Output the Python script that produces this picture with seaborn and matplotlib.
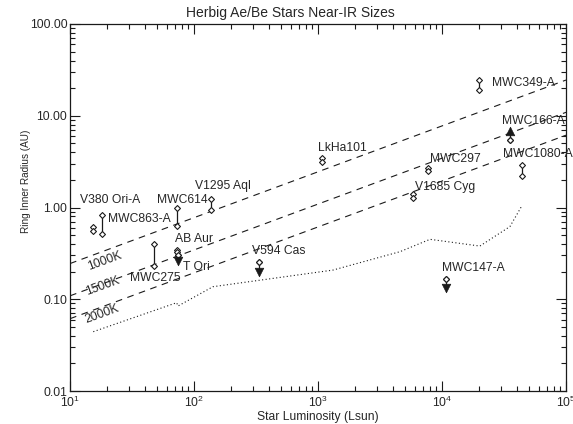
import numpy as np
import pandas as pd
import matplotlib
matplotlib.use("Agg")
import matplotlib.pyplot as plt
import matplotlib.ticker as mticker
import seaborn as sns

# Herbig Ae/Be stars: luminosity (Lsun) and the two measured ring radii (AU)
star_names = ['V380 Ori-A', 'MWC863-A', 'MWC614', 'V1295 Aql', 'MWC275',
              'AB Aur', 'T Ori', 'V594 Cas', 'LkHa101', 'MWC297',
              'V1685 Cyg', 'MWC349-A', 'MWC166-A', 'MWC1080-A', 'MWC147-A']
star_lum = [15.4, 18.1, 73, 137, 48, 73, 74, 337, 1077, 7650,
            5880, 20000, 35300, 44000, 10770]
r_high = [0.61, 0.83, 1.00, 1.23, 0.40, 0.344, 0.30, 0.253, 3.49, 2.67,
          1.40, 24.5, 5.4, 2.88, 0.165]
r_low = [0.55, 0.51, 0.63, 0.94, 0.23, 0.33, 0.30, 0.253, 3.16, 2.52,
         1.26, 19.0, 5.4, 2.20, 0.165]

# upper / lower limits (filled triangles)
limit_names = ['T Ori', 'V594 Cas', 'MWC147-A', 'MWC166-A']
limit_lum = [74, 337, 10770, 35300]
limit_r = [0.26, 0.196, 0.133, 6.8]
limit_dir = ['down', 'down', 'down', 'up']

# label anchor points (lum, radius), left edge of text
label_lum = [12.0, 20.2, 50.4, 102, 30.5, 70.3, 81.5, 294, 1000, 8000,
             6050, 25300, 30500, 31000, 10000]
label_r = [1.21, 0.75, 1.21, 1.71, 0.171, 0.454, 0.225, 0.336, 4.45, 3.38,
           1.67, 22.7, 8.77, 3.83, 0.22]

# dust sublimation radius lines, end points at L=10 and L=1e5
temps = ['1000K', '1500K', '2000K']
line_lum = [10, 1e5]
line_r_start = [0.245, 0.109, 0.0614]
line_r_end = [24.5, 10.9, 6.14]
temp_label_lum = [19.2, 18.5, 18.1]
temp_label_r = [0.261, 0.139, 0.069]

# dotted curve
curve_lum = [15.4, 72.4, 74.3, 142, 1320, 4580, 8000, 20200, 35300, 44000]
curve_r = [0.0443, 0.0917, 0.0844, 0.137, 0.208, 0.33, 0.45, 0.38, 0.62, 1.04]

sns.set_theme(style="ticks")
plt.rcParams['font.family'] = ['Liberation Sans', 'DejaVu Sans']
plt.rcParams['axes.linewidth'] = 0.9
fs = 8.7

fig = plt.figure(figsize=(5.73, 4.24), dpi=100)
ax = fig.add_axes([0.1222, 0.0778, 0.8656, 0.8656])
ax.set_xscale('log')
ax.set_yscale('log')

# sublimation lines
lines_df = pd.DataFrame({
    'lum': line_lum * 3,
    'r': [v for pair in zip(line_r_start, line_r_end) for v in pair],
    'temp': [t for t in temps for _ in range(2)],
})
for t in temps:
    sub = lines_df[lines_df['temp'] == t]
    sns.lineplot(data=sub, x='lum', y='r', color='k', lw=0.8, ax=ax,
                 dashes=False, linestyle=(0, (6, 5)))
for t, xl, yl in zip(temps, temp_label_lum, temp_label_r):
    ax.text(xl, yl, t, fontsize=fs, rotation=20, ha='center', va='center',
            rotation_mode='anchor')

# dotted curve
curve_df = pd.DataFrame({'lum': curve_lum, 'r': curve_r})
sns.lineplot(data=curve_df, x='lum', y='r', color='k', lw=0.8, ax=ax,
             linestyle=(0, (1, 2.2)), sort=False)

# bars connecting the two measurements
ax.vlines(star_lum, r_low, r_high, color='k', lw=0.9, zorder=3)
# connectors to limit triangles
diam_lookup = dict(zip(star_names, r_high))
ax.vlines(limit_lum, [min(diam_lookup[n], r) for n, r in zip(limit_names, limit_r)],
          [max(diam_lookup[n], r) for n, r in zip(limit_names, limit_r)],
          color='k', lw=0.9, zorder=3)

stars_df = pd.DataFrame({'lum': star_lum * 2, 'r': r_high + r_low})
sns.scatterplot(data=stars_df, x='lum', y='r', marker='D', s=9,
                facecolor='white', edgecolor='k', linewidth=0.8, ax=ax, zorder=4)

lim_df = pd.DataFrame({'lum': limit_lum, 'r': limit_r, 'dir': limit_dir})
for d, m in [('down', 'v'), ('up', '^')]:
    sub = lim_df[lim_df['dir'] == d]
    sns.scatterplot(data=sub, x='lum', y='r', marker=m, s=38, color='k',
                    edgecolor='k', linewidth=0.5, ax=ax, zorder=5)

for name, xl, yl in zip(star_names, label_lum, label_r):
    ax.text(xl, yl, name, fontsize=fs, ha='left', va='center')

ax.set_xlim(10, 1e5)
ax.set_ylim(0.01, 100)
ax.set_xlabel('')
ax.set_ylabel('')
ax.xaxis.set_major_locator(mticker.LogLocator(base=10, numticks=10))
ax.xaxis.set_minor_locator(mticker.LogLocator(base=10, subs=np.arange(2, 10), numticks=20))
ax.xaxis.set_minor_formatter(mticker.NullFormatter())
ax.yaxis.set_major_locator(mticker.LogLocator(base=10, numticks=10))
ax.yaxis.set_minor_locator(mticker.LogLocator(base=10, subs=np.arange(2, 10), numticks=20))
ax.yaxis.set_major_formatter(mticker.FormatStrFormatter('%.2f'))
ax.yaxis.set_minor_formatter(mticker.NullFormatter())
ax.tick_params(which='both', direction='in', top=True, right=True,
               labelsize=fs, color='k', width=0.8)
ax.tick_params(which='major', length=7)
ax.tick_params(which='minor', length=3.5)
ax.tick_params(axis='y', pad=2)
ax.tick_params(axis='x', pad=2.5)
for sp in ax.spines.values():
    sp.set_color('k')

fig.text(0.506, 0.969, 'Herbig Ae/Be Stars Near-IR Sizes', fontsize=10,
         ha='center', va='center')
fig.text(0.555, 0.017, 'Star Luminosity (Lsun)', fontsize=fs,
         ha='center', va='center')
fig.text(0.045, 0.572, 'Ring Inner Radius (AU)', fontsize=7.2,
         ha='center', va='center', rotation=90)

fig.savefig('out.png', dpi=100)
